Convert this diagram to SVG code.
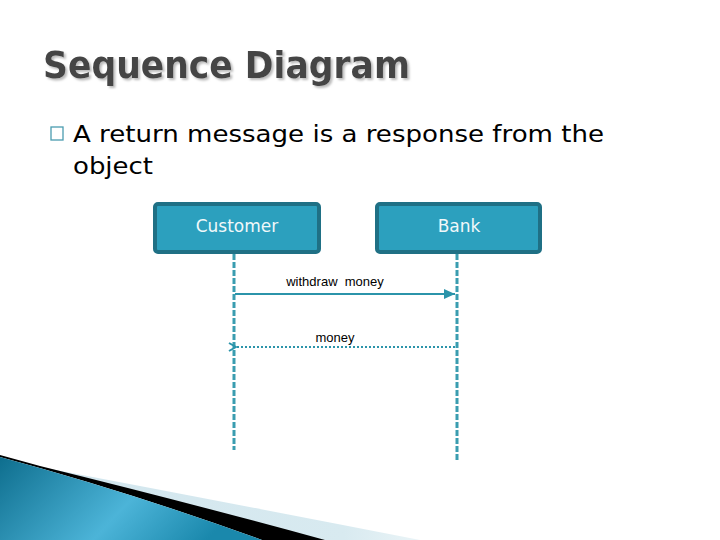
<svg xmlns="http://www.w3.org/2000/svg" width="720" height="540" viewBox="0 0 720 540">
<defs>
<style>
.title{font-family:"DejaVu Sans",sans-serif;font-weight:bold;font-size:38px;fill:#444}
.body{font-family:"DejaVu Sans",sans-serif;font-size:23px;fill:#000}
.box{fill:#2CA0BE;stroke:#1F7085;stroke-width:4}
.boxtxt{font-family:"DejaVu Sans",sans-serif;font-size:17px;fill:#F0F8FA;text-anchor:middle}
.life{stroke:#3A9DB0;stroke-width:3;stroke-dasharray:6,2;fill:none}
.msg{font-family:"Liberation Sans",Arial,sans-serif;font-size:13px;fill:#000;text-anchor:middle}
</style>
<filter id="shadow" x="-5%" y="-20%" width="110%" height="140%">
<feDropShadow dx="2" dy="2" stdDeviation="0.8" flood-color="#bbb" flood-opacity="1"/>
</filter>
<marker id="solid" markerWidth="12" markerHeight="10" refX="11" refY="5" orient="auto" markerUnits="userSpaceOnUse">
<path d="M0,0 L11,5 L0,10 Z" fill="#2B94AA"/>
</marker>
<marker id="open" markerWidth="10" markerHeight="10" refX="1" refY="5" orient="auto" markerUnits="userSpaceOnUse">
<path d="M8,1 L1,5 L8,9" fill="none" stroke="#2B94AA" stroke-width="2"/>
</marker>
<linearGradient id="swoosh" x1="0" y1="0" x2="1" y2="0.3">
<stop offset="0" stop-color="#0E6E8E"/>
<stop offset="0.6" stop-color="#4CB4D8"/>
<stop offset="1" stop-color="#1A88AC"/>
</linearGradient>
<linearGradient id="light" x1="0" y1="0" x2="1" y2="0">
<stop offset="0" stop-color="#D2E6EE"/>
<stop offset="0.8" stop-color="#D8EAF0"/>
<stop offset="1" stop-color="#EAF4F7"/>
</linearGradient>
</defs>
<rect width="720" height="540" fill="#fff"/>
<g id="decoration">
<path d="M40,467 Q230,503 420,540 L320,540 Q190,505 40,467 Z" fill="url(#light)"/>
<path d="M0,455 L40,466 Q190,503 325,540 L262,540 Q130,492 0,457 Z" fill="#000"/>
<path d="M0,457 Q130,492 262,540 L0,540 Z" fill="url(#swoosh)"/>
</g>
<g id="title">
<text class="title" x="43" y="78" textLength="367" lengthAdjust="spacingAndGlyphs" filter="url(#shadow)">Sequence Diagram</text>
</g>
<g id="bullet">
<rect x="51" y="127" width="12" height="13" fill="none" stroke="#4A9CB0" stroke-width="1.3"/>
<text class="body" x="73" y="142" textLength="531" lengthAdjust="spacingAndGlyphs">A return message is a response from the</text>
<text class="body" x="73" y="174" textLength="80" lengthAdjust="spacingAndGlyphs">object</text>
</g>
<g id="customer">
<rect class="box" x="155" y="204" width="164" height="48" rx="3"/>
<text class="boxtxt" x="237" y="232">Customer</text>
</g>
<g id="bank">
<rect class="box" x="377" y="204" width="163" height="48" rx="3"/>
<text class="boxtxt" x="459" y="232">Bank</text>
</g>
<g id="connectors">
<line class="life" x1="234" y1="254" x2="234" y2="450"/>
<line class="life" x1="457" y1="254" x2="457" y2="462"/>
<line x1="235" y1="294" x2="455" y2="294" stroke="#2B94AA" stroke-width="2" marker-end="url(#solid)"/>
<line x1="455" y1="347" x2="236" y2="347" stroke="#2B94AA" stroke-width="2" stroke-dasharray="2,2" marker-end="url(#open)"/>
<text class="msg" x="335" y="286">withdraw&#160; money</text>
<text class="msg" x="335" y="342">money</text>
</g>
</svg>
